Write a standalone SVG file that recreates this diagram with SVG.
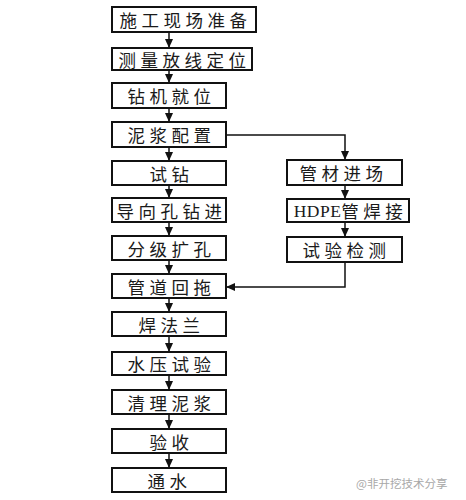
<svg xmlns="http://www.w3.org/2000/svg" width="466" height="500" viewBox="0 0 466 500">
<style>
  .box { fill: #ffffff; stroke: #111111; stroke-width: 2; }
  .lbl { font-family: "Noto Sans CJK SC", "Noto Sans CJK JP", sans-serif; font-size: 17.5px; letter-spacing: 4.5px; fill: #1a1a1a; text-anchor: middle; dominant-baseline: central; }
  .lat { font-family: "Liberation Serif", serif; letter-spacing: 0.5px; }
  .con { fill: none; stroke: #111111; stroke-width: 1.5; marker-end: url(#arr); }
  .wm { font-family: "Noto Sans CJK SC", sans-serif; font-size: 11.5px; fill: #a8a8a8; dominant-baseline: central; }
</style>
<defs>
  <marker id="arr" markerUnits="userSpaceOnUse" markerWidth="9" markerHeight="8" refX="9" refY="4" orient="auto">
    <path d="M0,0 L9,4 L0,8 z" fill="#111111"/>
  </marker>
</defs>
<rect width="466" height="500" fill="#ffffff"/>

<g id="connectors">
  <line class="con" x1="169" y1="32" x2="169" y2="48"/>
  <line class="con" x1="169" y1="70" x2="169" y2="83"/>
  <line class="con" x1="169" y1="108" x2="169" y2="122"/>
  <line class="con" x1="169" y1="147" x2="169" y2="161"/>
  <line class="con" x1="169" y1="185" x2="169" y2="198"/>
  <line class="con" x1="169" y1="222" x2="169" y2="236"/>
  <line class="con" x1="169" y1="260" x2="169" y2="274"/>
  <line class="con" x1="169" y1="298" x2="169" y2="312"/>
  <line class="con" x1="169" y1="336" x2="169" y2="352"/>
  <line class="con" x1="169" y1="375" x2="169" y2="390"/>
  <line class="con" x1="169" y1="414" x2="169" y2="429"/>
  <line class="con" x1="169" y1="453" x2="169" y2="468"/>
  <path class="con" d="M226,135 H345 V160"/>
  <line class="con" x1="345" y1="185" x2="345" y2="199"/>
  <line class="con" x1="345" y1="222" x2="345" y2="237"/>
  <path class="con" d="M345,262 V287 H226"/>
</g>

<g id="n1"><rect class="box" x="112" y="7" width="144" height="25"/><text class="lbl" x="185.5" y="19.5">施工现场准备</text></g>
<g id="n2"><rect class="box" x="112" y="48" width="140" height="22"/><text class="lbl" x="184.5" y="59">测量放线定位</text></g>
<g id="n3"><rect class="box" x="112" y="83" width="114" height="25"/><text class="lbl" x="171.5" y="95.5">钻机就位</text></g>
<g id="n4"><rect class="box" x="112" y="122" width="114" height="25"/><text class="lbl" x="171.5" y="134.5">泥浆配置</text></g>
<g id="n5"><rect class="box" x="112" y="161" width="114" height="24"/><text class="lbl" x="171.5" y="173">试钻</text></g>
<g id="n6"><rect class="box" x="112" y="198" width="114" height="24"/><text class="lbl" x="171.5" y="210">导向孔钻进</text></g>
<g id="n7"><rect class="box" x="112" y="236" width="114" height="24"/><text class="lbl" x="171.5" y="248">分级扩孔</text></g>
<g id="n8"><rect class="box" x="112" y="274" width="114" height="24"/><text class="lbl" x="171.5" y="286">管道回拖</text></g>
<g id="n9"><rect class="box" x="112" y="312" width="114" height="24"/><text class="lbl" x="171.5" y="324">焊法兰</text></g>
<g id="n10"><rect class="box" x="112" y="352" width="114" height="23"/><text class="lbl" x="171.5" y="363.5">水压试验</text></g>
<g id="n11"><rect class="box" x="112" y="390" width="114" height="24"/><text class="lbl" x="171.5" y="402">清理泥浆</text></g>
<g id="n12"><rect class="box" x="112" y="429" width="114" height="24"/><text class="lbl" x="171.5" y="441">验收</text></g>
<g id="n13"><rect class="box" x="112" y="468" width="114" height="24"/><text class="lbl" x="169.5" y="480">通水</text></g>

<g id="r1"><rect class="box" x="287" y="160" width="115" height="25"/><text class="lbl" x="343.5" y="172.5">管材进场</text></g>
<g id="r2"><rect class="box" x="287" y="199" width="122" height="23"/><text class="lbl" x="350.5" y="210.5"><tspan class="lat">HDPE</tspan>管焊接</text></g>
<g id="r3"><rect class="box" x="287" y="237" width="115" height="25"/><text class="lbl" x="346.5" y="249.5">试验检测</text></g>

<text class="wm" x="356" y="483">@非开挖技术分享</text>
</svg>
